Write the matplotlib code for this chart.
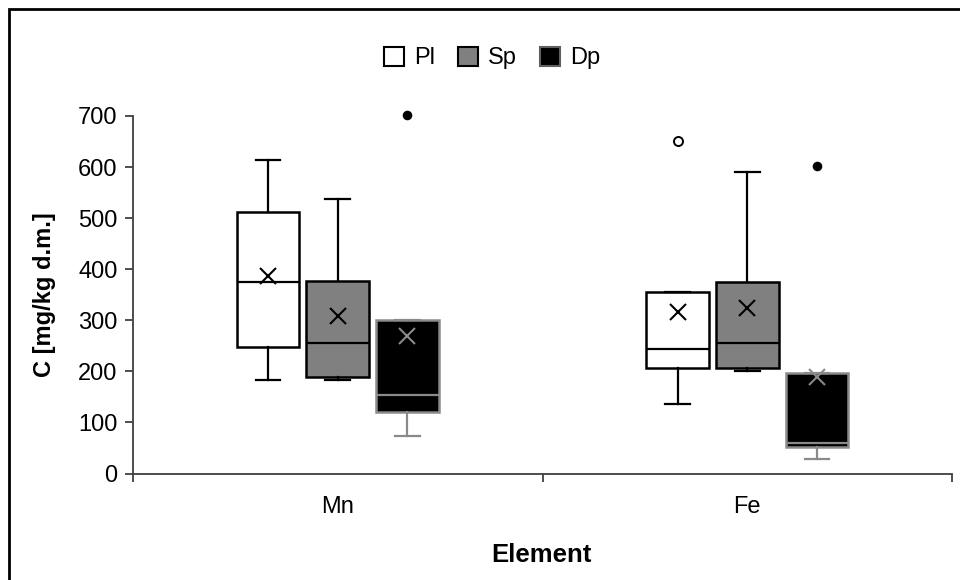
import matplotlib
matplotlib.use("Agg")
import matplotlib.pyplot as plt
from matplotlib.patches import Rectangle, Patch

plt.rcParams['font.family'] = ['Liberation Sans', 'DejaVu Sans']

# ---- data ----
elements = ["Mn", "Fe"]
series = ["Pl", "Sp", "Dp"]
whislo = {"Pl": [183, 137], "Sp": [183, 200], "Dp": [73, 28]}
q1     = {"Pl": [248, 206], "Sp": [188, 206], "Dp": [120, 51]}
median = {"Pl": [374, 244], "Sp": [255, 255], "Dp": [153, 60]}
q3     = {"Pl": [513, 355], "Sp": [377, 374], "Dp": [301, 197]}
whishi = {"Pl": [614, 355], "Sp": [538, 590], "Dp": [301, 197]}
mean   = {"Pl": [386, 316], "Sp": [309, 325], "Dp": [270, 188]}
fliers = {"Pl": [[], [651]], "Sp": [[], []], "Dp": [[702], [602]]}
yticks = [0, 100, 200, 300, 400, 500, 600, 700]

# ---- styles ----
face = {"Pl": "white", "Sp": "#808080", "Dp": "black"}
edge = {"Pl": "black", "Sp": "black", "Dp": "#8a8a8a"}
offsets = {"Pl": -0.17, "Sp": 0.0, "Dp": 0.17}
flier_face = {"Pl": "white", "Sp": "black", "Dp": "black"}
flier_size = {"Pl": 6.5, "Sp": 5.5, "Dp": 5.5}

fig = plt.figure(figsize=(9.6, 5.8), dpi=100)
ax = fig.add_axes([133/960, 1-473.5/580, (952-133)/960, (473.5-116)/580])

for s in series:
    stats = []
    for i in range(len(elements)):
        stats.append(dict(med=median[s][i], q1=q1[s][i], q3=q3[s][i],
                          whislo=whislo[s][i], whishi=whishi[s][i],
                          mean=mean[s][i], fliers=fliers[s][i]))
    pos = [i + 0.5 + offsets[s] for i in range(len(elements))]
    ec = edge[s]
    res = ax.bxp(stats, positions=pos, widths=0.153, patch_artist=True,
                 showmeans=True, showfliers=True,
                 boxprops=dict(facecolor=face[s], edgecolor=ec, linewidth=1.8),
                 medianprops=dict(color=ec, linewidth=1.6),
                 whiskerprops=dict(color=ec, linewidth=1.6),
                 capprops=dict(color=ec, linewidth=1.6),
                 capwidths=0.06,
                 meanprops=dict(marker='x', markeredgecolor=ec, markersize=12,
                                markeredgewidth=1.5, linestyle='none'),
                 flierprops=dict(marker='o', markerfacecolor=flier_face[s],
                                 markeredgecolor='black', markersize=flier_size[s],
                                 markeredgewidth=1.4, linestyle='none'),
                 manage_ticks=False)
    for fl in res['fliers']:
        fl.set_clip_on(False)

ax.set_xlim(0, len(elements))
ax.set_ylim(0, 700)
ax.set_yticks(yticks)
ax.set_xticks([0, 1, 2])
ax.set_xticklabels(["", "", ""])
for i, e in enumerate(elements):
    ax.text(i + 0.5, -0.062, e, transform=ax.get_xaxis_transform(),
            ha='center', va='top', fontsize=17)

for sp in ["top", "right"]:
    ax.spines[sp].set_visible(False)
for sp in ["left", "bottom"]:
    ax.spines[sp].set_color("#404040")
    ax.spines[sp].set_linewidth(1.3)
ax.tick_params(axis='both', direction='out', color="#404040", width=1.3,
               length=6, labelsize=17)
ax.tick_params(axis='y', pad=5)

ax.set_ylabel("C [mg/kg d.m.]", fontsize=17, fontweight='bold', labelpad=16)
fig.text(541/960, 1-555/580, "Element", ha='center', va='center',
         fontsize=18.5, fontweight='bold')

handles = [Patch(facecolor=face[s], edgecolor=('black' if s != 'Dp' else '#606060'),
                 linewidth=1.5) for s in series]
fig.legend(handles, series, loc='center', bbox_to_anchor=(492/960, 1-58/580),
           ncol=3, frameon=False, fontsize=17, handlelength=0.85,
           handleheight=0.85, handletextpad=0.4, columnspacing=1.0)

# outer frame (only left/top edges visible)
fig.patches.append(Rectangle((8.5/960, -0.2), 1.2, 1.2 - 8.5/580,
                             transform=fig.transFigure, fill=False,
                             edgecolor='black', linewidth=2.0))

fig.savefig("out.png", dpi=100)
